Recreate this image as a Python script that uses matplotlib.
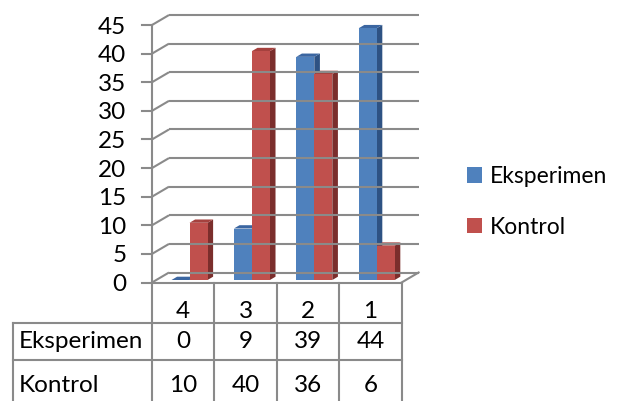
import matplotlib.pyplot as plt
from matplotlib.patches import Polygon, Patch

plt.rcParams['font.family'] = ['Lato', 'DejaVu Sans']

categories = ['4', '3', '2', '1']
series_names = ['Eksperimen', 'Kontrol']
eksperimen = [0, 9, 39, 44]
kontrol = [10, 40, 36, 6]
y_ticks = list(range(0, 50, 5))

front_colors = ['#4F81BD', '#C0504D']
side_colors = ['#2E5283', '#7B2E2C']
top_colors = ['#3B66A1', '#A5413E']
grid_color = '#8A8A8A'
fs = 17.5

W, H = 619, 401
fig = plt.figure(figsize=(W / 100, H / 100), dpi=100)
ax = fig.add_axes([0, 0, 1, 1])
ax.axis('off')

# one x unit = one category column, one y unit = one value unit
x0_px, cat_px = 152, 62.4
y0_px, unit_px = 282.5, 5.722
ax.set_xlim(-x0_px / cat_px, (W - x0_px) / cat_px)
ax.set_ylim(-(H - y0_px) / unit_px, y0_px / unit_px)

DX = 17 / cat_px      # depth of the walls
DY = 10 / unit_px
n = len(categories)
lw = 1.5

# back wall gridlines and side wall diagonals
for v in y_ticks:
    ax.plot([0, DX], [v, v + DY], color=grid_color, lw=lw, solid_capstyle='butt')
    ax.plot([DX, n + DX], [v + DY, v + DY], color=grid_color, lw=lw, solid_capstyle='butt')
    ax.plot([-0.16, 0], [v, v], color=grid_color, lw=lw)
    ax.text(-0.41, v - 0.35, str(v), ha='right', va='center', fontsize=fs)
ax.plot([0, 0], [0, max(y_ticks)], color=grid_color, lw=lw)
ax.plot([0, n], [0, 0], color=grid_color, lw=lw)
ax.plot([n, n + DX], [0, DY], color=grid_color, lw=lw)

# 3D columns
f_front, f_back = 0.25, 0.58
bar_w = 18 / cat_px
offsets = [15.25 / cat_px, 15.25 / cat_px + bar_w]
for s, values in enumerate([eksperimen, kontrol]):
    for i, v in enumerate(values):
        xa = i + offsets[s]
        xb = xa + bar_w
        fx, fy = f_front * DX, f_front * DY
        bx, by = f_back * DX, f_back * DY
        front = [(xa + fx, fy), (xb + fx, fy), (xb + fx, v + fy), (xa + fx, v + fy)]
        side = [(xb + fx, fy), (xb + bx, by), (xb + bx, v + by), (xb + fx, v + fy)]
        top = [(xa + fx, v + fy), (xb + fx, v + fy), (xb + bx, v + by), (xa + bx, v + by)]
        ax.add_patch(Polygon(side, closed=True, facecolor=side_colors[s], edgecolor='none'))
        ax.add_patch(Polygon(top, closed=True, facecolor=top_colors[s], edgecolor='none'))
        ax.add_patch(Polygon(front, closed=True, facecolor=front_colors[s], edgecolor='none'))

# data table under the plot
ybot = -(H - y0_px) / unit_px
row1 = (y0_px - 323) / unit_px
row2 = (y0_px - 360) / unit_px
left = (13 - x0_px) / cat_px
for i in range(n + 1):
    ax.plot([i, i], [0, ybot], color=grid_color, lw=lw)
ax.plot([left, left], [row1, ybot], color=grid_color, lw=lw)
ax.plot([left, n], [row1, row1], color=grid_color, lw=lw)
ax.plot([left, n], [row2, row2], color=grid_color, lw=lw)

text_y = [(y0_px - 312) / unit_px, (y0_px - 342) / unit_px, (y0_px - 385) / unit_px]
for i, c in enumerate(categories):
    ax.text(i + 0.5, text_y[0], c, ha='center', va='center', fontsize=fs)
for r, (name, values) in enumerate(zip(series_names, [eksperimen, kontrol])):
    ax.text((19 - x0_px) / cat_px, text_y[r + 1], name, ha='left', va='center', fontsize=fs)
    for i, v in enumerate(values):
        ax.text(i + 0.5, text_y[r + 1], str(v), ha='center', va='center', fontsize=fs)

handles = [Patch(facecolor=c, edgecolor='none') for c in front_colors]
ax.legend(handles, series_names, loc='center left', bbox_to_anchor=(467 / W, 1 - 202 / H),
          frameon=False, fontsize=16.5, handlelength=0.65, handleheight=0.65,
          handletextpad=0.35, labelspacing=1.3, borderaxespad=0, borderpad=0)

fig.savefig('out.png', dpi=100)
